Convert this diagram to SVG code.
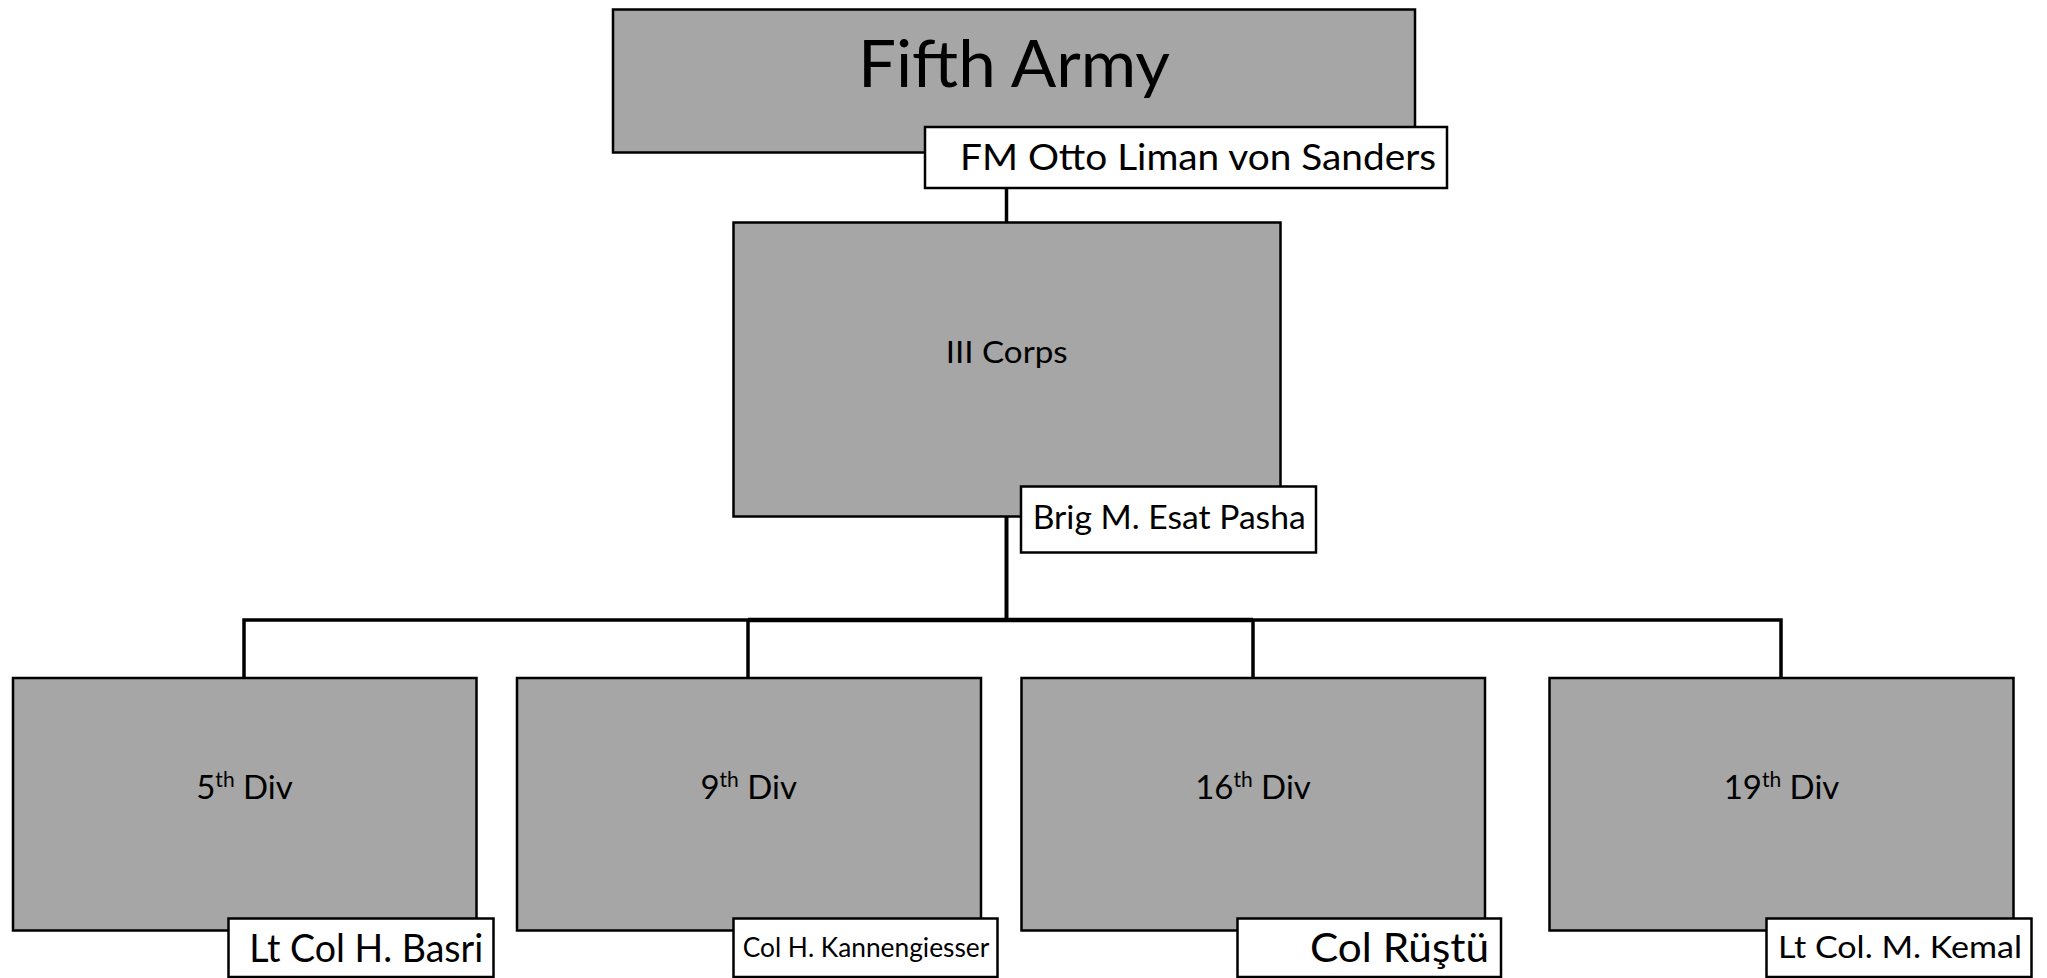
<svg xmlns="http://www.w3.org/2000/svg" width="2047" height="978" viewBox="0 0 2047 978">
<style>
.box{fill:#a6a6a6;stroke:#000;stroke-width:2.5}
.lbl{fill:#fff;stroke:#000;stroke-width:2.5}
.t{font-family:Lato,"Open Sans","Liberation Sans",sans-serif;fill:#000}
.d{font-size:33px}
.sup{font-size:21px}
.c{fill:none;stroke:#000;stroke-width:3.5}
</style>
<rect width="2047" height="978" fill="#fff"/>
<g id="connectors">
<line class="c" x1="1006.5" y1="188" x2="1006.5" y2="222"/>
<line class="c" x1="1006.5" y1="517" x2="1006.5" y2="620" style="stroke-width:4"/>
<polyline class="c" points="244,678 244,620 1781,620 1781,678"/>
<line class="c" x1="748" y1="620" x2="1253" y2="620" style="stroke-width:4.5"/>
<line class="c" x1="748" y1="620" x2="748" y2="678"/>
<line class="c" x1="1253" y1="620" x2="1253" y2="678"/>
</g>
<g id="fifth-army">
<rect class="box" x="613" y="9.5" width="802" height="143"/>
<text class="t" x="1014" y="87" font-size="66" text-anchor="middle" textLength="312" lengthAdjust="spacingAndGlyphs">Fifth Army</text>
</g>
<g id="fm-label">
<rect class="lbl" x="925" y="127" width="522" height="61"/>
<text class="t" x="960" y="170" font-size="37" textLength="476" lengthAdjust="spacingAndGlyphs">FM Otto Liman von Sanders</text>
</g>
<g id="iii-corps">
<rect class="box" x="733.5" y="222.5" width="547" height="294"/>
<text class="t" x="1006.7" y="362.7" font-size="31" text-anchor="middle" textLength="122" lengthAdjust="spacingAndGlyphs">III Corps</text>
</g>
<g id="brig-label">
<rect class="lbl" x="1021" y="486.5" width="295" height="66"/>
<text class="t" x="1032.7" y="529.3" font-size="32" textLength="273" lengthAdjust="spacingAndGlyphs">Brig M. Esat Pasha</text>
</g>
<g id="div5">
<rect class="box" x="13" y="678" width="463.5" height="252.5"/>
<text class="t d" x="244.5" y="798.5" text-anchor="middle">5<tspan class="sup" dy="-12">th</tspan><tspan dy="12"> Div</tspan></text>
</g>
<g id="basri-label">
<rect class="lbl" x="228.5" y="918.5" width="265" height="58.5"/>
<text class="t" x="249.3" y="961.7" font-size="39" textLength="234" lengthAdjust="spacingAndGlyphs">Lt Col H. Basri</text>
</g>
<g id="div9">
<rect class="box" x="517" y="678" width="464" height="252.5"/>
<text class="t d" x="748.7" y="798.5" text-anchor="middle">9<tspan class="sup" dy="-12">th</tspan><tspan dy="12"> Div</tspan></text>
</g>
<g id="kannengiesser-label">
<rect class="lbl" x="733.5" y="918.5" width="264" height="58.5"/>
<text class="t" x="742.7" y="956.7" font-size="26" textLength="246.6" lengthAdjust="spacingAndGlyphs">Col H. Kannengiesser</text>
</g>
<g id="div16">
<rect class="box" x="1021.5" y="678" width="463.5" height="252.5"/>
<text class="t d" x="1253" y="798.5" text-anchor="middle">16<tspan class="sup" dy="-12">th</tspan><tspan dy="12"> Div</tspan></text>
</g>
<g id="rustu-label">
<rect class="lbl" x="1237.5" y="918.5" width="263.5" height="58.5"/>
<text class="t" x="1310" y="961.7" font-size="40" textLength="179" lengthAdjust="spacingAndGlyphs">Col Rüştü</text>
</g>
<g id="div19">
<rect class="box" x="1549.5" y="678" width="464" height="252.5"/>
<text class="t d" x="1781.5" y="798.5" text-anchor="middle">19<tspan class="sup" dy="-12">th</tspan><tspan dy="12"> Div</tspan></text>
</g>
<g id="kemal-label">
<rect class="lbl" x="1766.5" y="918.5" width="265" height="58.5"/>
<text class="t" x="1778" y="958.3" font-size="31" textLength="244" lengthAdjust="spacingAndGlyphs">Lt Col. M. Kemal</text>
</g>
</svg>
